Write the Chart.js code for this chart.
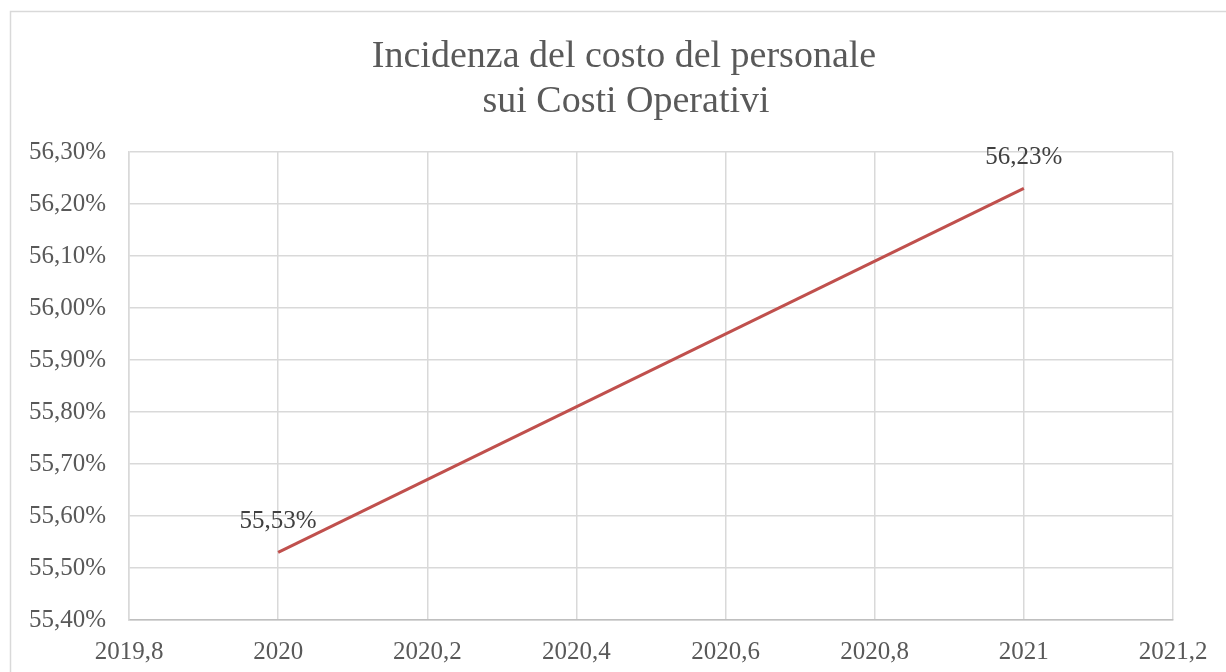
<!DOCTYPE html>
<html lang="it">
<head>
<meta charset="utf-8">
<title>Incidenza del costo del personale</title>
<script src="https://cdn.jsdelivr.net/npm/chart.js@4/dist/chart.umd.min.js"></script>
<style>
    html, body { margin: 0; padding: 0; background: #fff; }
    #wrap { position: absolute; left: 0; top: 0; width: 1226px; height: 672px; }
</style>
</head>
<body>
<div id="wrap"><canvas id="chart" width="1226" height="672"></canvas></div>
<script>
// dati
const years = [2020, 2021];
const incidenza = [55.53, 56.23];
const titleLines = ['Incidenza del costo del personale', 'sui Costi Operativi'];
const xTicks = [2019.8, 2020, 2020.2, 2020.4, 2020.6, 2020.8, 2021, 2021.2];
const yTicks = [55.4, 55.5, 55.6, 55.7, 55.8, 55.9, 56.0, 56.1, 56.2, 56.3];

const FONT = '"Liberation Serif", "DejaVu Serif", serif';
const GRID = '#d9d9d9';

// formato italiano
function fmtPct(v) {
    return v.toFixed(2).replace('.', ',') + '%';
}
function fmtYear(v) {
    return String(Number(v.toFixed(1))).replace('.', ',');
}

// cornice + titolo
const framePlugin = {
    id: 'frame',
    beforeDraw(chart) {
        const ctx = chart.ctx;
        ctx.save();
        ctx.strokeStyle = GRID;
        ctx.lineWidth = 1.5;
        ctx.strokeRect(10.5, 11.5, 1300, 700);
        ctx.fillStyle = '#595959';
        ctx.font = '38px ' + FONT;
        ctx.textAlign = 'center';
        ctx.textBaseline = 'middle';
        ctx.fillText(titleLines[0], 624, 57);
        ctx.fillText(titleLines[1], 626, 102);
        ctx.restore();
    }
};

// etichette dei valori sopra i punti
const labelPlugin = {
    id: 'valueLabels',
    afterDatasetsDraw(chart) {
        const ctx = chart.ctx;
        const meta = chart.getDatasetMeta(0);
        ctx.save();
        ctx.fillStyle = '#404040';
        ctx.font = '25px ' + FONT;
        ctx.textAlign = 'center';
        ctx.textBaseline = 'middle';
        meta.data.forEach((pt, i) => {
            ctx.fillText(fmtPct(incidenza[i]), pt.x, pt.y - 31);
        });
        ctx.restore();
    }
};

const points = years.map((y, i) => ({ x: y, y: incidenza[i] }));

new Chart(document.getElementById('chart'), {
    type: 'line',
    data: {
        datasets: [{
            data: points,
            borderColor: '#C0504D',
            borderWidth: 3,
            pointRadius: 0,
            tension: 0
        }]
    },
    options: {
        responsive: false,
        animation: false,
        layout: { padding: { left: 0, right: 53, top: 152, bottom: 0 } },
        plugins: {
            legend: { display: false },
            tooltip: { enabled: false }
        },
        scales: {
            x: {
                type: 'linear',
                min: xTicks[0],
                max: xTicks[xTicks.length - 1],
                afterBuildTicks(axis) {
                    axis.ticks = xTicks.map(v => ({ value: v }));
                },
                afterFit(axis) { axis.height = 52; },
                grid: { color: GRID, lineWidth: 1.5, drawTicks: false },
                border: { color: '#bfbfbf', width: 1.5 },
                ticks: {
                    color: '#595959',
                    font: { family: FONT, size: 25 },
                    padding: 17,
                    maxRotation: 0,
                    autoSkip: false,
                    callback: v => fmtYear(v)
                }
            },
            y: {
                min: yTicks[0],
                max: yTicks[yTicks.length - 1],
                afterBuildTicks(axis) {
                    axis.ticks = yTicks.map(v => ({ value: v }));
                },
                afterFit(axis) { axis.width = 129; },
                grid: { color: GRID, lineWidth: 1.5, drawTicks: false },
                border: { color: GRID, width: 1.5 },
                ticks: {
                    color: '#595959',
                    font: { family: FONT, size: 25 },
                    padding: 23,
                    autoSkip: false,
                    callback: v => fmtPct(v)
                }
            }
        }
    },
    plugins: [framePlugin, labelPlugin]
});
</script>
</body>
</html>
